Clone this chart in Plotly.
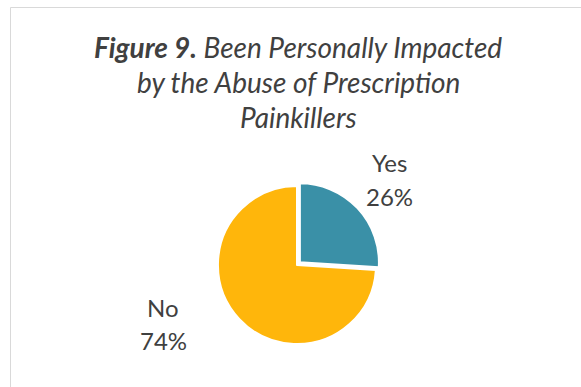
import plotly.graph_objects as go

labels = ["Yes", "No"]
values = [26, 74]
colors = ["#3A90A7", "#FFB60B"]
title_lines = ["<b>Figure 9.</b> Been Personally Impacted",
               "by the Abuse of Prescription",
               "Painkillers"]

W, H = 581, 387
FONT = "Lato"
TXT = "#404040"

fig = go.Figure(go.Pie(
    labels=labels, values=values, sort=False, direction="clockwise",
    rotation=0, pull=[0.05, 0],
    marker=dict(colors=colors, line=dict(color="white", width=2)),
    textinfo="none", hoverinfo="label+percent", showlegend=False,
    domain=dict(x=[(297 - 83) / W, (297 + 83) / W],
                y=[(H - 265 - 83) / H, (H - 265 + 83) / H]),
))

def py(yp):
    return 1 - yp / H

ann = []
for i, line in enumerate(title_lines):
    ann.append(dict(text=f"<i>{line}</i>", x=298 / W, y=py(47 + 35 * i),
                    xref="paper", yref="paper", showarrow=False,
                    xanchor="center", yanchor="middle",
                    font=dict(family=FONT, size=28, color=TXT)))

label_pos = {"Yes": (389, 163), "No": (163, 307)}
total = sum(values)
for lab, v in zip(labels, values):
    x, y = label_pos[lab]
    for j, t in enumerate([lab, f"{round(100 * v / total)}%"]):
        ann.append(dict(text=t, x=x / W, y=py(y + 33 * j),
                        xref="paper", yref="paper", showarrow=False,
                        xanchor="center", yanchor="middle",
                        font=dict(family=FONT, size=24, color=TXT)))

fig.update_layout(
    width=W, height=H, margin=dict(l=0, r=0, t=0, b=0),
    paper_bgcolor="white", plot_bgcolor="white",
    annotations=ann,
    shapes=[dict(type="rect", xref="paper", yref="paper",
                 x0=10.5 / W, x1=1.2, y0=-0.2, y1=1 - 7.5 / H,
                 line=dict(color="#D9D9D9", width=1), fillcolor="rgba(0,0,0,0)")],
)
fig.write_html("out.html")
